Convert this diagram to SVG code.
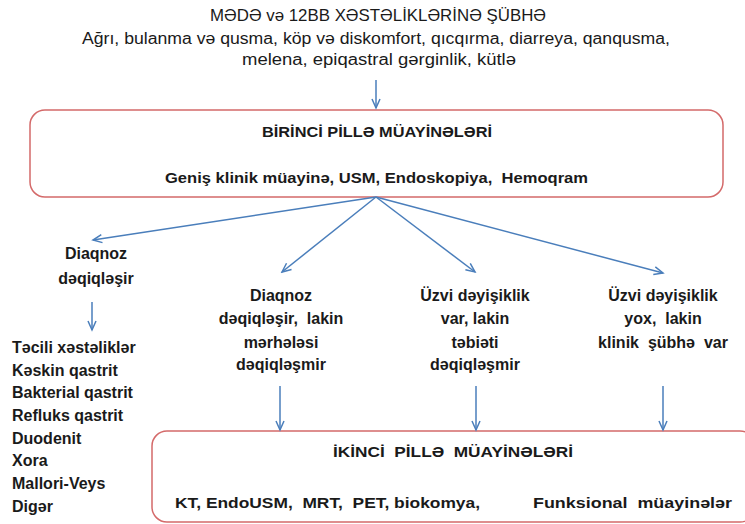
<svg xmlns="http://www.w3.org/2000/svg" width="745" height="524" viewBox="0 0 745 524">
<style>
.t{font-family:"Liberation Sans",Arial,sans-serif;fill:#1a1a1a;}
.r{font-size:16px;}
.b{font-size:16px;font-weight:bold;}
.bx{font-size:15px;font-weight:bold;}
.p{white-space:pre;}
.box{fill:#fff;stroke:#d46a6a;stroke-width:1.5;}
.c{stroke:#4a7ebb;stroke-width:1.5;fill:none;marker-end:url(#ah);}
</style>
<defs>
<marker id="ah" markerWidth="12" markerHeight="10" refX="10" refY="5" orient="auto" markerUnits="userSpaceOnUse">
<path d="M1,1 L10,5 L1,9" fill="none" stroke="#4a7ebb" stroke-width="1.5"/>
</marker>
</defs>
<rect width="745" height="524" fill="#fff"/>
<g id="header">
<text class="t r" x="210" y="21" style="font-size:17px" textLength="336" lengthAdjust="spacingAndGlyphs">MƏDƏ və 12BB XƏSTƏLİKLƏRİNƏ ŞÜBHƏ</text>
<text class="t r" x="82" y="44" textLength="588" lengthAdjust="spacingAndGlyphs">Ağrı, bulanma və qusma, köp və diskomfort, qıcqırma, diarreya, qanqusma,</text>
<text class="t r" x="242" y="65" textLength="274" lengthAdjust="spacingAndGlyphs">melena, epiqastral gərginlik, kütlə</text>
</g>
<g id="box1">
<rect class="box" x="30" y="110" width="693" height="87" rx="15"/>
<text class="t bx" x="262" y="137" textLength="230" lengthAdjust="spacingAndGlyphs">BİRİNCİ PİLLƏ MÜAYİNƏLƏRİ</text>
<text class="t bx p" x="165" y="183" textLength="423" lengthAdjust="spacingAndGlyphs">Geniş klinik müayinə, USM, Endoskopiya,  Hemoqram</text>
</g>
<g id="node-diaqnoz" class="t b" text-anchor="middle">
<text x="96" y="259">Diaqnoz</text>
<text x="96" y="284">dəqiqləşir</text>
</g>
<g id="node-list" class="t b">
<text x="12" y="353">Təcili xəstəliklər</text>
<text x="12" y="376">Kəskin qastrit</text>
<text x="12" y="398">Bakterial qastrit</text>
<text x="12" y="421">Refluks qastrit</text>
<text x="12" y="444">Duodenit</text>
<text x="12" y="466">Xora</text>
<text x="12" y="489">Mallori-Veys</text>
<text x="12" y="512">Digər</text>
</g>
<g id="node-merhele" class="t b" text-anchor="middle">
<text x="281" y="301">Diaqnoz</text>
<text class="p" x="281" y="324">dəqiqləşir,  lakin</text>
<text x="281" y="348">mərhələsi</text>
<text x="281" y="370">dəqiqləşmir</text>
</g>
<g id="node-uzvi-var" class="t b" text-anchor="middle">
<text x="475" y="301">Üzvi dəyişiklik</text>
<text x="475" y="324">var, lakin</text>
<text x="475" y="348">təbiəti</text>
<text x="475" y="370">dəqiqləşmir</text>
</g>
<g id="node-uzvi-yox" class="t b" text-anchor="middle">
<text x="663" y="301">Üzvi dəyişiklik</text>
<text class="p" x="663" y="324">yox,  lakin</text>
<text class="p" x="663" y="348">klinik  şübhə  var</text>
</g>
<g id="box2">
<rect class="box" x="152" y="431" width="603" height="91" rx="15"/>
<text class="t bx p" x="333" y="457" textLength="240" lengthAdjust="spacingAndGlyphs">İKİNCİ  PİLLƏ  MÜAYİNƏLƏRİ</text>
<text class="t bx p" x="175" y="508" textLength="305" lengthAdjust="spacingAndGlyphs">KT, EndoUSM,  MRT,  PET, biokomya,</text>
<text class="t bx p" x="533" y="508" textLength="199" lengthAdjust="spacingAndGlyphs">Funksional  müayinələr</text>
</g>
<g id="connectors">
<line class="c" x1="376" y1="80" x2="376" y2="108"/>
<line class="c" x1="376" y1="197" x2="93" y2="240"/>
<line class="c" x1="376" y1="197" x2="282" y2="272"/>
<line class="c" x1="376" y1="197" x2="475" y2="272"/>
<line class="c" x1="376" y1="197" x2="663" y2="273"/>
<line class="c" x1="92" y1="302" x2="92" y2="330"/>
<line class="c" x1="280" y1="386" x2="280" y2="430"/>
<line class="c" x1="476" y1="386" x2="476" y2="430"/>
<line class="c" x1="663" y1="386" x2="663" y2="430"/>
</g>
</svg>
